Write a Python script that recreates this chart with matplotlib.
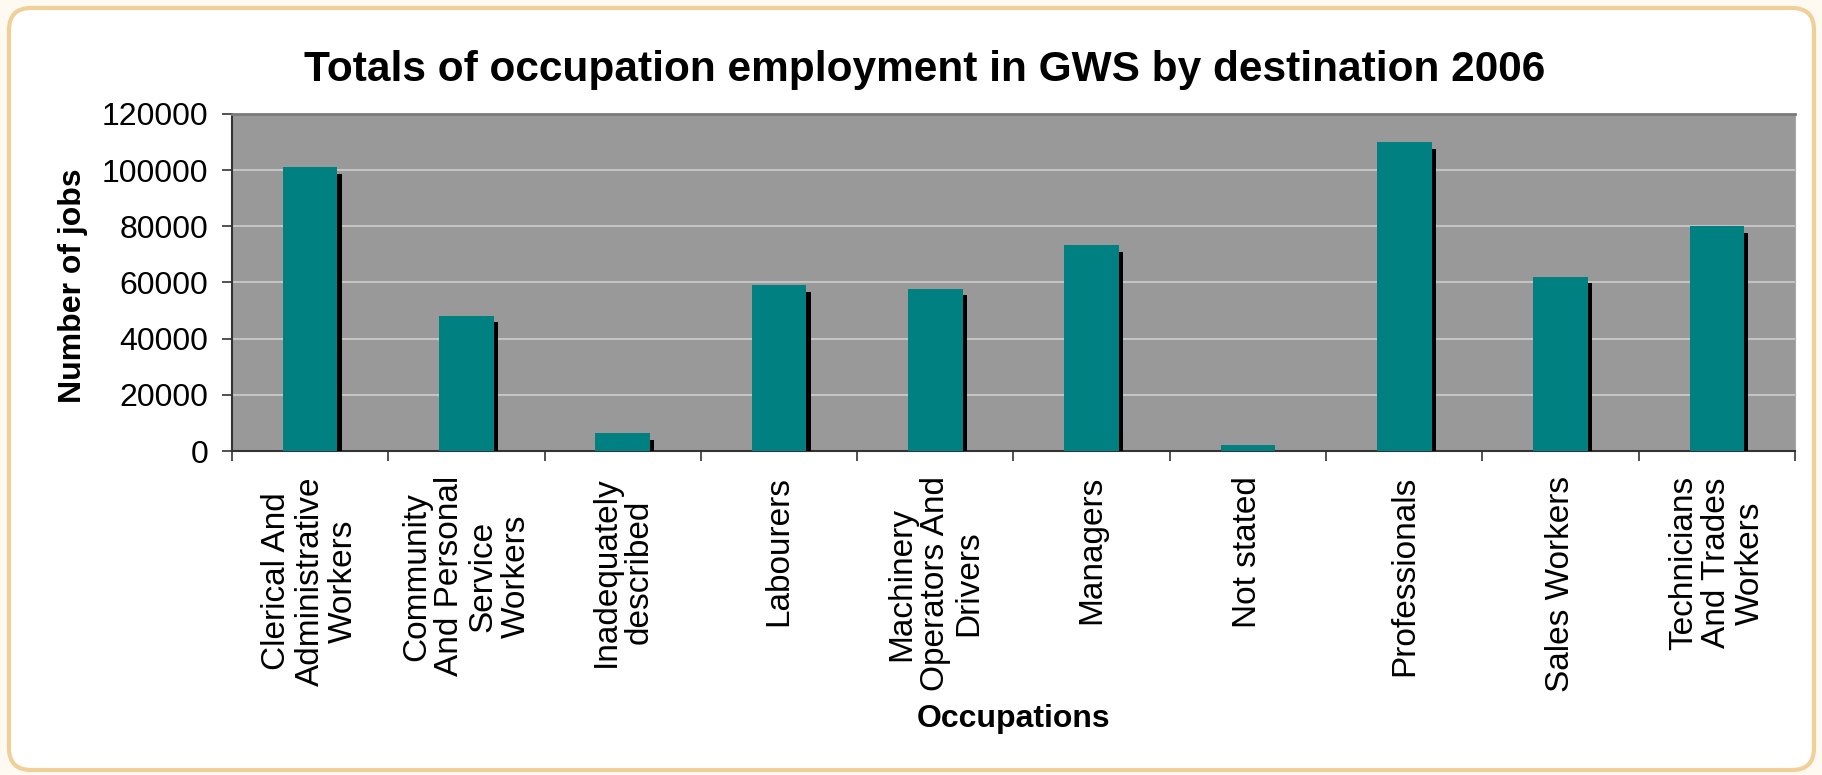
from matplotlib import pyplot as plt
from matplotlib import patheffects
from matplotlib.patches import FancyBboxPatch
from matplotlib.transforms import IdentityTransform

'''
Bar chart of total occupation employment in GWS by destination, 2006 census.
'''

occupations = ['Clerical And\nAdministrative\nWorkers',
               'Community\nAnd Personal\nService\nWorkers',
               'Inadequately\ndescribed',
               'Labourers',
               'Machinery\nOperators And\nDrivers',
               'Managers',
               'Not stated',
               'Professionals',
               'Sales Workers',
               'Technicians\nAnd Trades\nWorkers']
jobs = [101000, 48000, 6300, 59000, 57800, 73200, 2000, 109900, 62000, 80000]
y_ticks = [0, 20000, 40000, 60000, 80000, 100000, 120000]

title = 'Totals of occupation employment in GWS by destination 2006'
png_file = 'out.png'

plt.rcParams['font.family'] = ['Liberation Sans', 'DejaVu Sans']


def draw_frame(fig):
	# rounded tan border round the whole chart area, in pixels
	w, h = fig.get_size_inches() * fig.dpi
	frame = FancyBboxPatch((9, 5), w - 17, h - 13,
		boxstyle='round,pad=0,rounding_size=22',
		transform=IdentityTransform(), facecolor='white',
		edgecolor='#f0cf98', linewidth=3, zorder=-10)
	fig.patches.append(frame)


def plot_jobs(png_file):
	fig = plt.figure(figsize=(18.22, 7.75), dpi=100)
	fig.patch.set_facecolor('#fefaf2')
	draw_frame(fig)

	ax = fig.add_axes([0.1273, 0.418, 0.8579, 0.435])
	ax.set_facecolor('#999999')

	x = list(range(len(occupations)))
	bars = ax.bar(x, jobs, width=0.35, color='#008080', zorder=3)
	for bar in bars:
		bar.set_path_effects([
			patheffects.SimplePatchShadow(offset=(3, -4.5), shadow_rgbFace='black', alpha=1.0),
			patheffects.Normal()])

	ax.set_xlim(-0.5, len(occupations) - 0.5)
	ax.set_ylim(0, 120000)
	ax.set_yticks(y_ticks)
	ax.set_yticklabels([str(v) for v in y_ticks], fontsize=23)
	ax.yaxis.grid(True, color='#c4c4c4', linewidth=1.5, zorder=0)
	ax.set_axisbelow(True)

	ax.set_xticks(x)
	ax.set_xticklabels(occupations, rotation=90, fontsize=24, va='top', ha='center',
		multialignment='center', linespacing=1.1)
	ax.set_xticks([i - 0.5 for i in range(len(occupations) + 1)], minor=True)
	ax.tick_params(axis='x', which='major', length=0, pad=18)
	ax.tick_params(axis='x', which='minor', length=7, width=1.2, color='#333333', direction='out')
	ax.tick_params(axis='y', length=7, width=1.2, color='#333333', pad=10)

	ax.spines['left'].set_color('#333333')
	ax.spines['bottom'].set_color('#333333')
	ax.spines['left'].set_linewidth(1.5)
	ax.spines['bottom'].set_linewidth(1.5)
	ax.spines['top'].set_color('#7a7a7a')
	ax.spines['top'].set_linewidth(2)
	ax.spines['right'].set_color('#a8a8a8')

	ax.set_ylabel('Number of jobs', fontsize=23, fontweight='bold')
	ax.yaxis.set_label_coords(-0.092, 0.49)
	ax.set_xlabel('Occupations', fontsize=23, fontweight='bold', va='center')
	ax.xaxis.set_label_coords(0.5, -0.795)

	fig.text(0.5077, 0.8955, title, fontsize=30.5, fontweight='bold', ha='center', va='baseline')

	plt.savefig(png_file, dpi=100, facecolor=fig.get_facecolor())


def main():
	plot_jobs(png_file)


if __name__ == "__main__":
	main()
